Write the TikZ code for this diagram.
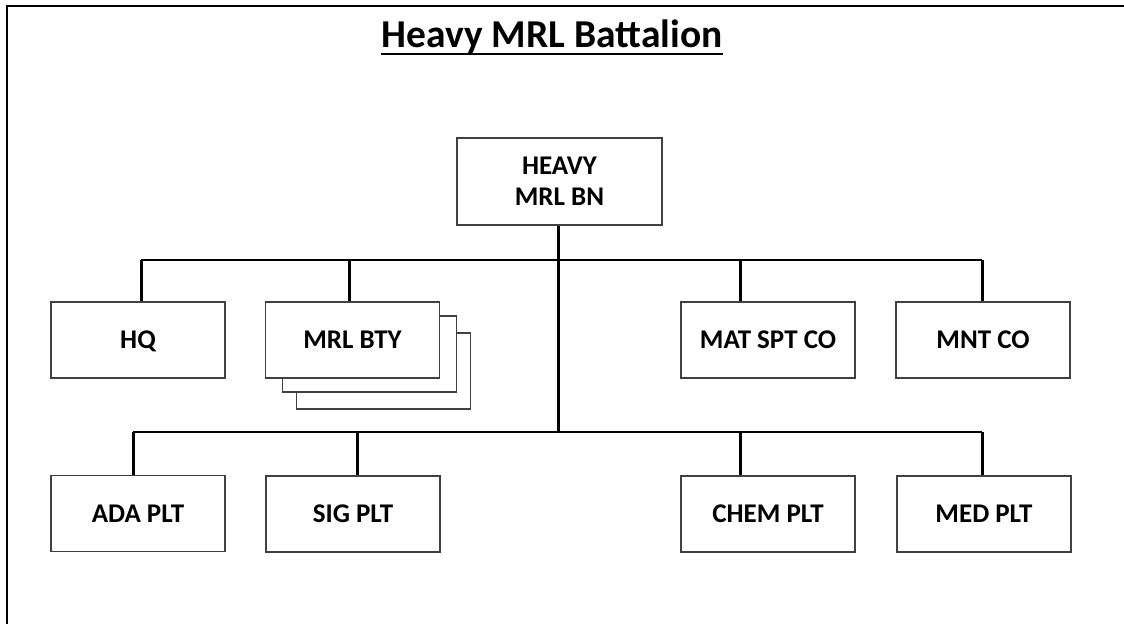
\documentclass[tikz,border=0pt]{standalone}
\usepackage{fontspec}
\setmainfont{Carlito}
\begin{document}
\begin{tikzpicture}[x=1pt,y=-1pt,
  unit/.style={draw=black!75, line width=1.5pt, fill=white, minimum width=174pt, minimum height=76pt, inner sep=0pt, font=\fontsize{27}{32}\selectfont\bfseries, align=center, text height=17pt, text depth=0pt},
  bus/.style={line width=2.5pt, black},
  stem/.style={line width=3pt, black},
  frame/.style={line width=2.8pt, black}]
\useasboundingbox (0,0) rectangle (1124,624);
% frame
\coordinate (fr1) at (1124,6);
\coordinate (fr2) at (7,6);
\coordinate (fr3) at (7,624);
\draw[frame] (fr1) -- (fr2) -- (fr3);
% title
\node[font=\fontsize{39.5}{46}\selectfont\bfseries, inner sep=0pt, anchor=base] (title) at (552,47) {Heavy MRL Battalion};
\draw[line width=2pt] ([yshift=-1pt]title.south west) -- ([yshift=-1pt]title.south east);
% top box
\node[unit, font=\fontsize{27}{31}\selectfont\bfseries, minimum width=205pt, minimum height=87pt, text height=48pt, text depth=0pt] (top) at (559.5,181.5) {HEAVY\\MRL BN};
% first row
\node[unit] (hq) at (138,340) {HQ};
\node[unit] (bty3) at (383.5,371) {};
\node[unit] (bty2) at (369.5,354) {};
\node[unit] (bty) at (352.5,340) {MRL BTY};
\node[unit] (mat) at (768,340) {MAT SPT CO};
\node[unit] (mnt) at (983,340) {MNT CO};
% second row
\node[unit] (ada) at (138,513.5) {ADA PLT};
\node[unit] (sig) at (353,514) {SIG PLT};
\node[unit] (chem) at (768,514) {CHEM PLT};
\node[unit] (med) at (984,514) {MED PLT};
% bus coordinates
\coordinate (b1l) at (141,260);
\coordinate (b1b) at (349,260);
\coordinate (b1c) at (740,260);
\coordinate (b1r) at (982,260);
\coordinate (b2l) at (133,432);
\coordinate (b2b) at (357,432);
\coordinate (b2c) at (740,432);
\coordinate (b2r) at (982,432);
\coordinate (mainend) at (558,432);
% connectors
\draw[stem] ([xshift=-1.5pt]top.south) -- (mainend);
\draw[bus] (b1l) -- (b1r);
\draw[bus] (b2l) -- (b2r);
\draw[stem] (b1l) -- (b1l |- hq.north);
\draw[stem] (b1b) -- (b1b |- bty.north);
\draw[stem] (b1c) -- (b1c |- mat.north);
\draw[stem] (b1r) -- (b1r |- mnt.north);
\draw[stem] (b2l) -- (b2l |- ada.north);
\draw[stem] (b2b) -- (b2b |- sig.north);
\draw[stem] (b2c) -- (b2c |- chem.north);
\draw[stem] (b2r) -- (b2r |- med.north);
\end{tikzpicture}
\end{document}
